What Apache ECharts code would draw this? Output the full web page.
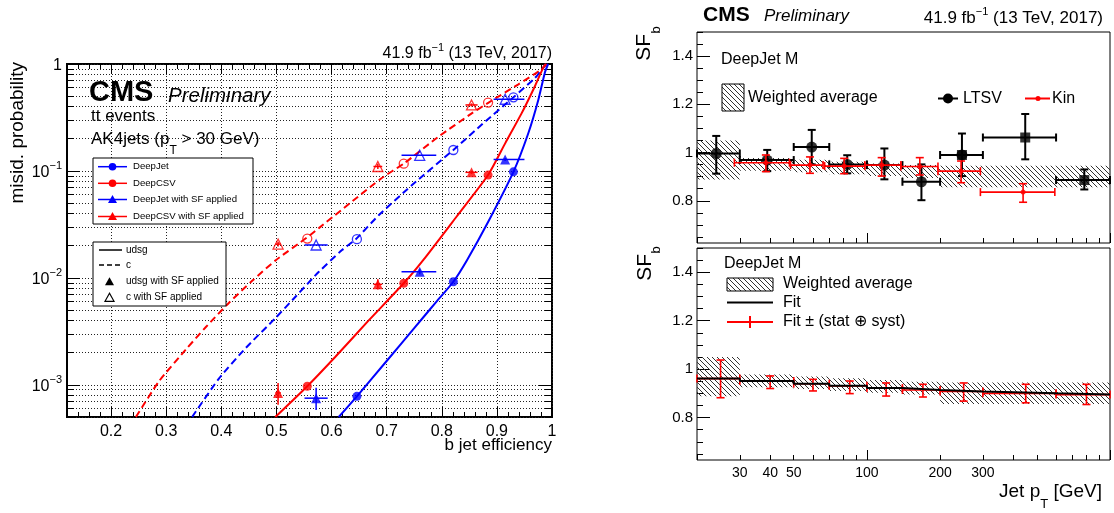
<!DOCTYPE html>
<html><head><meta charset="utf-8">
<script src="https://cdn.jsdelivr.net/npm/echarts@6/dist/echarts.min.js"></script>
<style>html,body{margin:0;padding:0;background:#fff}#c{width:1114px;height:513px}</style>
</head><body><div id="c"></div>
<script>
// ================= DATA =================
// ---- Left panel: misid. probability vs b jet efficiency ----
const xTickLabels = [0.2, 0.3, 0.4, 0.5, 0.6, 0.7, 0.8, 0.9, 1.0];
const yTickLabels = [0.001, 0.01, 0.1, 1];

// ROC curves
const djUdsgEff = [0.613, 0.646, 0.700, 0.750, 0.790, 0.821, 0.846, 0.885, 0.930, 0.957, 0.975, 0.987, 0.993];
const djUdsgMis = [0.0005, 0.00078, 0.00167, 0.00339, 0.00596, 0.0092, 0.0147, 0.034, 0.098, 0.225, 0.458, 0.83, 1.0];
const dcUdsgEff = [0.498, 0.556, 0.607, 0.667, 0.731, 0.767, 0.827, 0.884, 0.915, 0.945, 0.969, 0.984, 0.990];
const dcUdsgMis = [0.0005, 0.00097, 0.00183, 0.00398, 0.0089, 0.0148, 0.0375, 0.0915, 0.181, 0.347, 0.62, 0.92, 1.0];
const djCEff = [0.347, 0.396, 0.444, 0.498, 0.535, 0.577, 0.619, 0.644, 0.686, 0.746, 0.821, 0.879, 0.930, 0.969, 0.984, 0.990];
const djCMis = [0.0005, 0.00115, 0.0022, 0.0042, 0.0067, 0.0114, 0.0182, 0.023, 0.0387, 0.0738, 0.157, 0.29, 0.488, 0.74, 0.92, 1.0];
const dcCEff = [0.245, 0.287, 0.335, 0.372, 0.414, 0.456, 0.498, 0.556, 0.577, 0.690, 0.731, 0.794, 0.855, 0.885, 0.939, 0.981, 0.988];
const dcCMis = [0.0005, 0.00108, 0.00212, 0.00347, 0.00586, 0.00938, 0.0145, 0.024, 0.0292, 0.085, 0.117, 0.209, 0.347, 0.436, 0.646, 0.891, 1.0];

// working points (simulation)
const djWpEff = [0.646, 0.821, 0.930];
const djWpUdsg = [0.00078, 0.0092, 0.098];
const djWpC = [0.023, 0.157, 0.488];
const dcWpEff = [0.556, 0.731, 0.884];
const dcWpUdsg = [0.00097, 0.0089, 0.0915];
const dcWpC = [0.0233, 0.117, 0.436];

// working points with SF applied
const djSfEff = [0.572, 0.760, 0.915];
const djSfEffLo = [0.551, 0.727, 0.894];
const djSfEffHi = [0.593, 0.790, 0.950];
const djSfUdsg = [0.00075, 0.0114, 0.128];
const djSfUdsgLo = [0.00058, 0.0108, 0.124];
const djSfUdsgHi = [0.00094, 0.0120, 0.132];
const djSfC = [0.0203, 0.140, 0.468];
const dcSfEff = [0.503, 0.684, 0.854];
const dcSfEffLo = [0.498, 0.676, 0.843];
const dcSfEffHi = [0.508, 0.692, 0.865];
const dcSfUdsg = [0.00084, 0.0087, 0.097];
const dcSfUdsgLo = [0.00065, 0.0078, 0.094];
const dcSfUdsgHi = [0.00104, 0.0097, 0.100];
const dcSfC = [0.0207, 0.110, 0.414];
const dcSfCLo = [0.0197, 0.104, 0.400];
const dcSfCHi = [0.0218, 0.117, 0.428];

// ---- Right panels: SF_b vs jet pT ----
const ptTickLabels = [30, 40, 50, 100, 200, 300];
const sfTickLabels = [0.8, 1.0, 1.2, 1.4];
const ptEdges = [20, 30, 50, 70, 100, 140, 200, 300, 600, 1000];

// LTSV method
const ltsvPt = [24.0, 38.9, 59.3, 83, 118, 167.6, 246, 448, 784];
const ltsvSF = [0.996, 0.969, 1.023, 0.951, 0.948, 0.879, 0.990, 1.0625, 0.886];
const ltsvLo = [0.9125, 0.923, 0.951, 0.914, 0.889, 0.8025, 0.9025, 0.972, 0.847];
const ltsvHi = [1.069, 1.011, 1.094, 0.989, 1.017, 0.951, 1.079, 1.16, 0.930];

// Kin method
const kinPt = [38.4, 58.3, 80.6, 115, 165, 244, 439];
const kinPtLo = [28.5, 48.5, 67, 98, 138, 196, 293];
const kinPtHi = [48, 66, 98, 138, 196, 293, 593];
const kinSF = [0.958, 0.948, 0.944, 0.948, 0.942, 0.923, 0.836];
const kinLo = [0.921, 0.914, 0.9125, 0.9025, 0.907, 0.875, 0.794];
const kinHi = [0.990, 0.982, 0.976, 0.979, 0.979, 0.965, 0.871];

// Weighted average band (per pT bin)
const bandLo = [0.888, 0.925, 0.918, 0.910, 0.903, 0.895, 0.856, 0.856, 0.856];
const bandHi = [1.050, 0.978, 0.970, 0.962, 0.955, 0.948, 0.945, 0.945, 0.945];

// Fit (per pT bin) and its total uncertainty
const fitPt = [25, 40, 60, 85, 120, 170, 250, 450, 800];
const fitSF = [0.961, 0.951, 0.940, 0.931, 0.922, 0.914, 0.908, 0.900, 0.895];
const fitLo = [0.882, 0.920, 0.910, 0.899, 0.889, 0.885, 0.868, 0.861, 0.854];
const fitHi = [1.0375, 0.972, 0.958, 0.951, 0.943, 0.9375, 0.943, 0.9375, 0.9375];

// ================= STYLE / HELPERS =================
const FONT = '"Liberation Sans", Arial, Helvetica, sans-serif';
const BLUE = '#0000ff', RED = '#ff0000', BLACK = '#000000';

function makeHatch() {
  const c = document.createElement('canvas');
  c.width = 5; c.height = 5;
  const g = c.getContext('2d');
  g.strokeStyle = '#333333'; g.lineWidth = 1;
  g.beginPath();
  g.moveTo(-1, -1); g.lineTo(6, 6);
  g.moveTo(-1, 4); g.lineTo(1, 6);
  g.moveTo(4, -1); g.lineTo(6, 1);
  g.stroke();
  return c;
}
const HATCH = { image: makeHatch(), repeat: 'repeat' };

function logTicks(lo, hi) {
  const out = [];
  for (let e = -4; e <= 0; e++) for (let k = 1; k <= 9; k++) {
    const v = +(k * Math.pow(10, e)).toPrecision(6);
    if (v >= lo * 0.9999 && v <= hi * 1.0001) out.push(v);
  }
  return out;
}
function stepTicks(lo, hi, st, skip) {
  const out = [];
  for (let v = lo; v <= hi + 1e-9; v += st) {
    const r = +v.toFixed(4);
    if (!skip.some(s => Math.abs(s - r) < 1e-6)) out.push(r);
  }
  return out;
}
const ptMinor = [20, 30, 40, 50, 60, 70, 80, 90, 200, 300, 400, 500, 600, 700, 800, 900];
const ptMajor = [100, 1000];

function errSeries(xi, yi, rows, color, o) {
  return {
    type: 'custom', xAxisIndex: xi, yAxisIndex: yi, z: o.z || 3, silent: true,
    dimensions: ['x', 'y', 'xlo', 'xhi', 'ylo', 'yhi'],
    encode: { x: 0, y: 1 },
    data: rows,
    renderItem: (params, api) => {
      const x = api.value(0), y = api.value(1), xlo = api.value(2), xhi = api.value(3), ylo = api.value(4), yhi = api.value(5);
      const st = { stroke: color, lineWidth: o.lw || 1.5, fill: null };
      const ch = [];
      const L = (x1, y1, x2, y2) => ch.push({ type: 'line', shape: { x1, y1, x2, y2 }, style: st });
      if (xhi > xlo) {
        const a = api.coord([xlo, y]), b = api.coord([xhi, y]);
        L(a[0], a[1], b[0], b[1]);
        if (o.xcap) { L(a[0], a[1] - o.xcap, a[0], a[1] + o.xcap); L(b[0], b[1] - o.xcap, b[0], b[1] + o.xcap); }
      }
      if (yhi > ylo) {
        const a = api.coord([x, ylo]), b = api.coord([x, yhi]);
        L(a[0], a[1], b[0], b[1]);
        if (o.ycap) { L(a[0] - o.ycap, a[1], a[0] + o.ycap, a[1]); L(b[0] - o.ycap, b[1], b[0] + o.ycap, b[1]); }
      }
      return { type: 'group', children: ch };
    }
  };
}
function bandSeries(xi, yi) {
  const rows = bandLo.map((v, i) => [ptEdges[i], ptEdges[i + 1], v, bandHi[i]]);
  return {
    type: 'custom', xAxisIndex: xi, yAxisIndex: yi, z: 1, silent: true,
    dimensions: ['xlo', 'xhi', 'ylo', 'yhi'], encode: { x: [0, 1], y: [2, 3] },
    data: rows,
    renderItem: (params, api) => {
      const a = api.coord([api.value(0), api.value(3)]);
      const b = api.coord([api.value(1), api.value(2)]);
      return { type: 'rect', shape: { x: a[0], y: a[1], width: b[0] - a[0], height: b[1] - a[1] }, style: { fill: HATCH, stroke: null } };
    }
  };
}
const zip = (xs, ys) => xs.map((x, i) => [x, ys[i]]);
function curve(xs, ys, color, dashed) {
  return { type: 'line', xAxisIndex: 0, yAxisIndex: 0, data: zip(xs, ys), showSymbol: false, smooth: 0.2,
    lineStyle: { color, width: 2, type: dashed ? [7, 4] : 'solid' }, z: 2, silent: true };
}
function marks(xs, ys, color, symbol, open, size) {
  return { type: 'scatter', xAxisIndex: 0, yAxisIndex: 0, data: zip(xs, ys), symbol, symbolSize: size, z: 5, silent: true,
    itemStyle: open ? { color: 'rgba(0,0,0,0)', borderColor: color, borderWidth: 1.3 } : { color } };
}

// axis builders
function tickAxis(base, vals, len, extra) {
  return Object.assign({}, base, {
    axisLine: { show: false },
    axisTick: { show: true, inside: true, length: len, customValues: vals, lineStyle: { color: BLACK, width: 1 } },
    axisLabel: { show: false },
    splitLine: { show: false }
  }, extra || {});
}
const lx = { gridIndex: 0, type: 'value', min: 0.12, max: 1 };
const ly = { gridIndex: 0, type: 'log', logBase: 10, min: 0.0005, max: 1 };
const rtx = { gridIndex: 1, type: 'log', logBase: 10, min: 20, max: 1000 };
const rty = { gridIndex: 1, type: 'value', min: 0.625, max: 1.5 };
const rbx = { gridIndex: 2, type: 'log', logBase: 10, min: 20, max: 1000 };
const rby = { gridIndex: 2, type: 'value', min: 0.625, max: 1.5 };
const sfMinor = stepTicks(0.65, 1.5, 0.05, sfTickLabels);
const effMinor = stepTicks(0.12, 1.0, 0.02, xTickLabels);
const misAll = logTicks(0.0005, 1);

const xAxes = [
  // 0: left bottom, major + labels + grid
  Object.assign({}, lx, {
    position: 'bottom',
    axisLine: { show: false },
    axisTick: { show: true, inside: true, length: 10, customValues: xTickLabels, lineStyle: { color: BLACK } },
    axisLabel: { customValues: xTickLabels, color: BLACK, fontSize: 16, fontFamily: FONT, margin: 7,
      formatter: v => (Math.abs(v - 1) < 1e-9 ? '1' : (+v).toFixed(1)) },
    splitLine: { show: true, lineStyle: { color: '#222', width: 1, type: [1, 2] } }
  }),
  tickAxis(Object.assign({}, lx, { position: 'bottom' }), effMinor, 5),
  tickAxis(Object.assign({}, lx, { position: 'top' }), xTickLabels, 10),
  tickAxis(Object.assign({}, lx, { position: 'top' }), effMinor, 5),
  // 4,5: right top
  tickAxis(Object.assign({}, rtx, { position: 'bottom' }), ptMinor, 5),
  tickAxis(Object.assign({}, rtx, { position: 'bottom' }), ptMajor, 10),
  // 6,7: right bottom
  tickAxis(Object.assign({}, rbx, { position: 'bottom' }), ptMinor, 5, {
    axisLabel: { show: true, customValues: ptTickLabels, color: BLACK, fontSize: 14, fontFamily: FONT, margin: 6, formatter: v => String(Math.round(v)) }
  }),
  tickAxis(Object.assign({}, rbx, { position: 'bottom' }), ptMajor, 10)
];

const yRich = {
  b: { fontSize: 16, fontFamily: FONT, color: BLACK, lineHeight: 20, padding: [4, 0, 0, 0] },
  s: { fontSize: 11, fontFamily: FONT, color: BLACK, lineHeight: 12, verticalAlign: 'top' }
};
const sfLabel = {
  show: true, customValues: sfTickLabels, color: BLACK, fontSize: 15, fontFamily: FONT, margin: 4,
  formatter: v => (Math.abs(v - 1) < 1e-9 ? '1' : (+v).toFixed(1))
};
const yAxes = [
  Object.assign({}, ly, {
    position: 'left',
    axisLine: { show: false },
    axisTick: { show: true, inside: true, length: 7, customValues: misAll, lineStyle: { color: BLACK } },
    axisLabel: { customValues: yTickLabels, margin: 5, rich: yRich,
      formatter: v => { const e = Math.round(Math.log10(v)); return e === 0 ? '{b|1}' : '{b|10}{s|\u2212' + Math.abs(e) + '}'; } },
    splitLine: { show: true, lineStyle: { color: '#222', width: 1, type: [1, 2] } }
  }),
  tickAxis(Object.assign({}, ly, { position: 'left' }), yTickLabels, 13),
  tickAxis(Object.assign({}, ly, { position: 'right' }), misAll, 7),
  tickAxis(Object.assign({}, ly, { position: 'right' }), yTickLabels, 13),
  tickAxis(Object.assign({}, rty, { position: 'left' }), sfMinor, 6, { axisLabel: sfLabel }),
  tickAxis(Object.assign({}, rty, { position: 'left' }), sfTickLabels, 13),
  tickAxis(Object.assign({}, rby, { position: 'left' }), sfMinor, 6, { axisLabel: sfLabel }),
  tickAxis(Object.assign({}, rby, { position: 'left' }), sfTickLabels, 13)
];

// ---------------- series ----------------
const series = [
  curve(dcCEff, dcCMis, RED, true),
  curve(djCEff, djCMis, BLUE, true),
  curve(dcUdsgEff, dcUdsgMis, RED, false),
  curve(djUdsgEff, djUdsgMis, BLUE, false),
  // error bars of SF-applied points
  errSeries(0, 0, djSfEff.map((x, i) => [x, djSfUdsg[i], djSfEffLo[i], djSfEffHi[i], djSfUdsgLo[i], djSfUdsgHi[i]]), BLUE, { lw: 1.5 }),
  errSeries(0, 0, djSfEff.map((x, i) => [x, djSfC[i], djSfEffLo[i], djSfEffHi[i], djSfC[i], djSfC[i]]), BLUE, { lw: 1.5 }),
  errSeries(0, 0, dcSfEff.map((x, i) => [x, dcSfUdsg[i], dcSfEffLo[i], dcSfEffHi[i], dcSfUdsgLo[i], dcSfUdsgHi[i]]), RED, { lw: 1.5 }),
  errSeries(0, 0, dcSfEff.map((x, i) => [x, dcSfC[i], dcSfEffLo[i], dcSfEffHi[i], dcSfCLo[i], dcSfCHi[i]]), RED, { lw: 1.5 }),
  marks(djWpEff, djWpUdsg, BLUE, 'circle', false, 9),
  marks(djWpEff, djWpC, BLUE, 'circle', true, 9),
  marks(dcWpEff, dcWpUdsg, RED, 'circle', false, 9),
  marks(dcWpEff, dcWpC, RED, 'circle', true, 9),
  marks(djSfEff, djSfUdsg, BLUE, 'triangle', false, 10),
  marks(djSfEff, djSfC, BLUE, 'triangle', true, 10),
  marks(dcSfEff, dcSfUdsg, RED, 'triangle', false, 10),
  marks(dcSfEff, dcSfC, RED, 'triangle', true, 10),

  // ---- right top ----
  bandSeries(4, 4),
  errSeries(4, 4, ltsvPt.map((x, i) => [x, ltsvSF[i], ptEdges[i], ptEdges[i + 1], ltsvLo[i], ltsvHi[i]]), BLACK, { lw: 2, xcap: 4, ycap: 4, z: 3 }),
  { type: 'scatter', xAxisIndex: 4, yAxisIndex: 4, z: 4, silent: true, symbol: 'circle', symbolSize: 11,
    data: zip(ltsvPt, ltsvSF).slice(0, 7), itemStyle: { color: BLACK } },
  { type: 'scatter', xAxisIndex: 4, yAxisIndex: 4, z: 4, silent: true, symbol: 'rect', symbolSize: 10,
    data: zip(ltsvPt, ltsvSF).slice(6), itemStyle: { color: BLACK } },
  errSeries(4, 4, kinPt.map((x, i) => [x, kinSF[i], kinPtLo[i], kinPtHi[i], kinLo[i], kinHi[i]]), RED, { lw: 1.6, xcap: 4, ycap: 4, z: 5 }),
  { type: 'scatter', xAxisIndex: 4, yAxisIndex: 4, z: 6, silent: true, symbol: 'circle', symbolSize: 5,
    data: zip(kinPt, kinSF), itemStyle: { color: RED } },

  // ---- right bottom ----
  bandSeries(6, 6),
  errSeries(6, 6, fitPt.map((x, i) => [x, fitSF[i], ptEdges[i], ptEdges[i + 1], fitLo[i], fitHi[i]]), RED, { lw: 1.6, xcap: 4, ycap: 4, z: 3 }),
  { type: 'line', xAxisIndex: 6, yAxisIndex: 6, z: 4, silent: true, showSymbol: false,
    data: fitSF.flatMap((v, i) => [[ptEdges[i], v], [ptEdges[i + 1], v]]),
    lineStyle: { color: BLACK, width: 2 } }
];

// ---------------- graphic (texts & legends) ----------------
function T(x, y, text, o) {
  o = o || {};
  return { type: 'text', x, y, z: 100, silent: true, rotation: o.rot || 0,
    style: { text, fill: o.color || BLACK, fontSize: o.size || 16, fontFamily: FONT,
      fontWeight: o.weight || 'normal', fontStyle: o.fstyle || 'normal',
      textAlign: o.align || 'left', textVerticalAlign: o.va || 'middle',
      align: o.align || 'left', verticalAlign: o.va || 'middle', rich: o.rich } };
}
function Ln(x1, y1, x2, y2, color, w, dash) {
  return { type: 'line', z: 100, silent: true, shape: { x1, y1, x2, y2 }, style: { stroke: color, lineWidth: w || 1.5, lineDash: dash || null } };
}
function Cir(cx, cy, r, color, open) {
  return { type: 'circle', z: 101, silent: true, shape: { cx, cy, r }, style: open ? { fill: null, stroke: color, lineWidth: 1.2 } : { fill: color } };
}
function Tri(cx, cy, s, color, open) {
  return { type: 'polygon', z: 101, silent: true, shape: { points: [[cx, cy - s], [cx - s, cy + s * 0.8], [cx + s, cy + s * 0.8]] },
    style: open ? { fill: null, stroke: color, lineWidth: 1.2 } : { fill: color } };
}
function Box(x, y, w, h, fill, stroke, lw) {
  return { type: 'rect', z: 99, silent: true, shape: { x, y, width: w, height: h }, style: { fill: fill || '#fff', stroke: stroke || BLACK, lineWidth: lw || 1 } };
}
const supRich = (size, ssize, pad) => ({
  a: { fontSize: size, fontFamily: FONT, color: BLACK, lineHeight: size + 4, padding: [pad, 0, 0, 0] },
  s: { fontSize: ssize, fontFamily: FONT, color: BLACK, lineHeight: ssize + 1, verticalAlign: 'top' }
});
const subRich = (size, ssize, drop) => ({
  a: { fontSize: size, fontFamily: FONT, color: BLACK, lineHeight: size + 4, verticalAlign: 'top' },
  s: { fontSize: ssize, fontFamily: FONT, color: BLACK, lineHeight: ssize + 1, padding: [drop, 0, 0, 0], verticalAlign: 'top' }
});

const graphics = [
  // ---- left panel ----
  T(552, 52, '{a|41.9 fb}{s|\u22121}{a| (13 TeV, 2017)}', { align: 'right', rich: supRich(16, 11, 3) }),
  T(89, 93, 'CMS', { size: 29, weight: 'bold' }),
  T(168, 96, 'Preliminary', { size: 20.5, fstyle: 'italic' }),
  T(91, 116, 'tt events', { size: 17 }),
  T(91, 141, '{a|AK4jets (p}{s|T}{a| > 30 GeV)}', { rich: subRich(17, 12, 14) }),
  T(18, 62, 'misid. probability', { size: 19, rot: Math.PI / 2, align: 'right' }),
  T(552, 445, 'b jet efficiency', { size: 17, align: 'right' }),

  Box(93, 158, 160, 66),
  Ln(98, 166.7, 127, 166.7, BLUE), Cir(112.5, 166.7, 3.8, BLUE), T(133, 166.7, 'DeepJet', { size: 9.6 }),
  Ln(98, 183.3, 127, 183.3, RED), Cir(112.5, 183.3, 3.8, RED), T(133, 183.3, 'DeepCSV', { size: 9.6 }),
  Ln(98, 199.5, 127, 199.5, BLUE), Tri(112.5, 199.5, 4.5, BLUE), T(133, 199.5, 'DeepJet with SF applied', { size: 9.6 }),
  Ln(98, 216.5, 127, 216.5, RED), Tri(112.5, 216.5, 4.5, RED), T(133, 216.5, 'DeepCSV with SF applied', { size: 9.6 }),

  Box(93, 242, 133, 64),
  Ln(99, 250, 122, 250, BLACK, 1.5), T(126, 250, 'udsg', { size: 10 }),
  Ln(99, 265, 122, 265, BLACK, 1.5, [5, 3]), T(126, 265, 'c', { size: 10 }),
  Tri(109.5, 281.7, 4.5, BLACK), T(126, 281.7, 'udsg with SF applied', { size: 10 }),
  Tri(109.5, 297.7, 4.5, BLACK, true), T(126, 297.7, 'c with SF applied', { size: 10 }),

  // ---- right panels ----
  T(703, 15, 'CMS', { size: 21, weight: 'bold' }),
  T(764, 16, 'Preliminary', { size: 17, fstyle: 'italic' }),
  T(1103, 17, '{a|41.9 fb}{s|\u22121}{a| (13 TeV, 2017)}', { align: 'right', rich: supRich(17, 11, 3) }),

  T(644, 34, 'SF', { size: 21, rot: Math.PI / 2, align: 'right' }),
  T(656, 30, 'b', { size: 13, rot: Math.PI / 2, align: 'center' }),
  T(645, 254, 'SF', { size: 21, rot: Math.PI / 2, align: 'right' }),
  T(656, 250, 'b', { size: 13, rot: Math.PI / 2, align: 'center' }),

  T(721, 60, 'DeepJet M', { size: 16 }),
  Box(722, 84, 22, 27, HATCH, BLACK, 1),
  T(748, 97.5, 'Weighted average', { size: 16 }),
  Ln(938, 98.5, 958, 98.5, BLACK, 2), Cir(948, 98.5, 5, BLACK), T(963, 99, 'LTSV', { size: 16 }),
  Ln(1025, 98.5, 1050, 98.5, RED, 2), Cir(1038, 98.5, 2.5, RED), T(1052, 99, 'Kin', { size: 16 }),

  T(724, 264, 'DeepJet M', { size: 16 }),
  Box(727, 278, 46, 13, HATCH, BLACK, 1),
  T(783, 283.5, 'Weighted average', { size: 16 }),
  Ln(727, 302.5, 773, 302.5, BLACK, 2), T(783, 302.5, 'Fit', { size: 16 }),
  Ln(727, 322, 773, 322, RED, 2), Ln(750, 316, 750, 328, RED, 2), T(783, 321.5, 'Fit \u00b1 (stat \u2295 syst)', { size: 16 }),

  T(1102, 494, '{a|Jet p}{s|T}{a| [GeV]}', { align: 'right', rich: subRich(19, 13, 15) })
];

const option = {
  animation: false,
  backgroundColor: '#fff',
  grid: [
    { left: 67, top: 64, width: 485, height: 353, show: true, borderColor: BLACK, borderWidth: 2, backgroundColor: 'rgba(0,0,0,0)', containLabel: false, outerBoundsMode: 'none' },
    { left: 697, top: 32, width: 413, height: 211, show: true, borderColor: BLACK, borderWidth: 1, backgroundColor: 'rgba(0,0,0,0)', containLabel: false, outerBoundsMode: 'none' },
    { left: 697, top: 248, width: 413, height: 212, show: true, borderColor: BLACK, borderWidth: 1, backgroundColor: 'rgba(0,0,0,0)', containLabel: false, outerBoundsMode: 'none' }
  ],
  xAxis: xAxes,
  yAxis: yAxes,
  series,
  graphic: graphics
};
const chart = echarts.init(document.getElementById('c'), null, { renderer: 'canvas', width: 1114, height: 513 });
chart.setOption(option);
</script>
</body></html>
